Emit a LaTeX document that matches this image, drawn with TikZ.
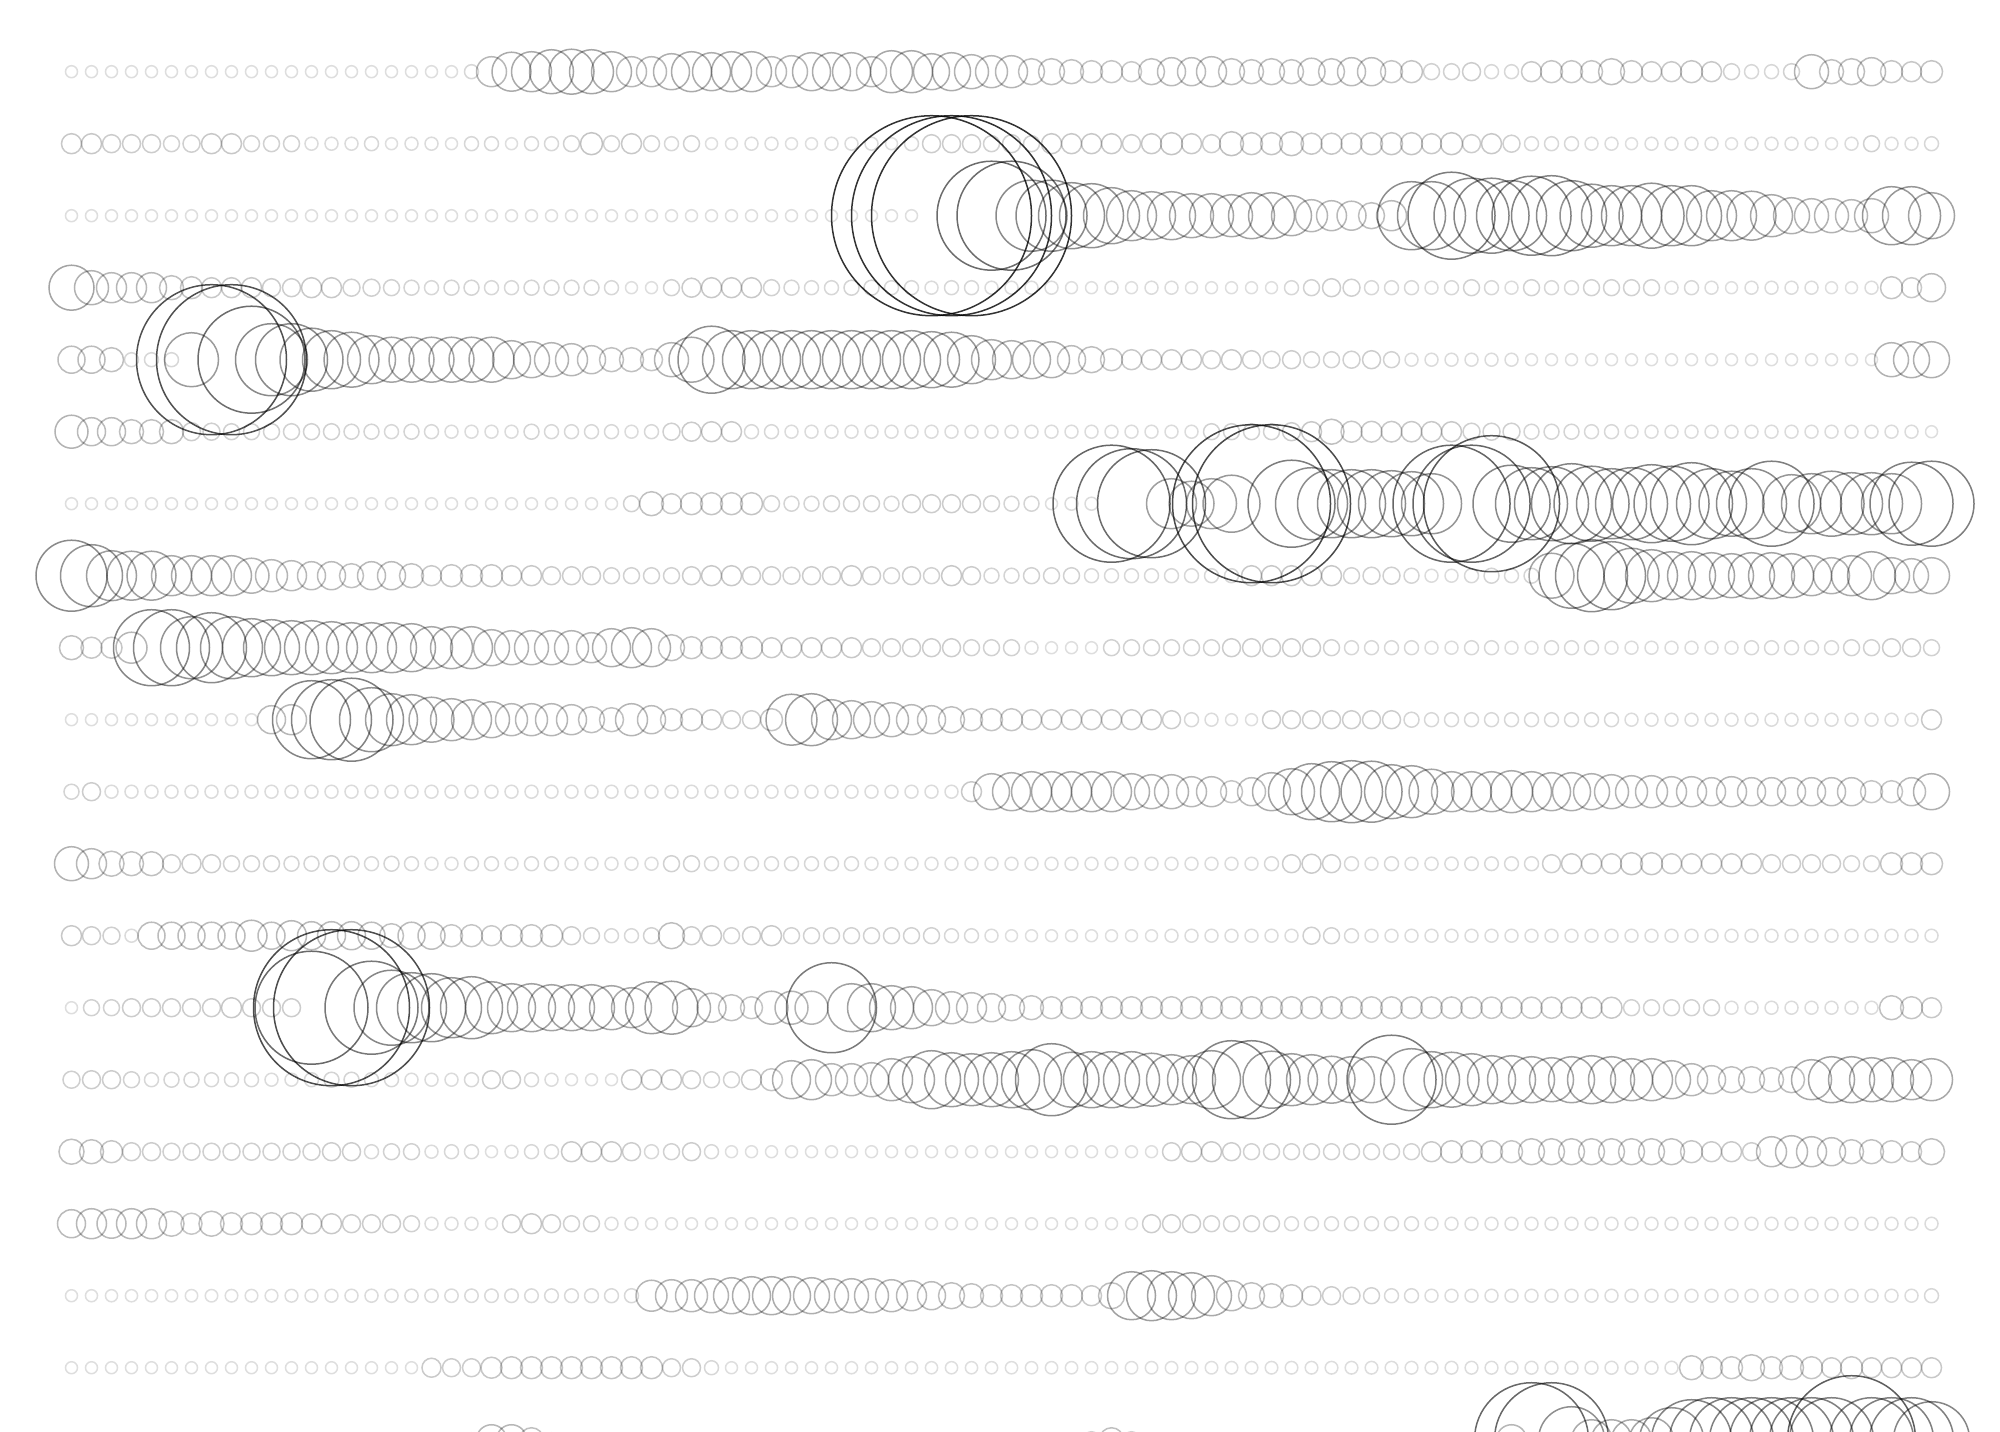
\documentclass[tikz,border=0pt]{standalone}
\tikzset{ring/.style={draw=black, line width=0.75pt}}
\newcommand\ringrow[2]{%
  \foreach \kj/\kd [remember=\kj as \pj (initially -1), remember=\kd as \pd (initially 12)] in {#2} {%
    \pgfmathtruncatemacro\cstart{\pj+1}%
    \foreach \cc in {\cstart,...,\kj} {%
      \pgfmathsetmacro\dd{\pd+(\kd-\pd)*(\cc-\pj)/(\kj-\pj)}%
      \pgfmathsetmacro\op{0.11+0.7*pow(max(\dd-12,0.5)/190,0.6)}%
      \draw[ring, draw opacity=\op] ({71.5+20*\cc},{71.7+72*#1}) circle[radius={\dd/2}];
    }%
  }%
}
\begin{document}
\begin{tikzpicture}[x=0.5pt,y=-0.5pt]
\useasboundingbox (0,0) rectangle (2000,1431);
\clip (0,0) rectangle (2000,1431);
\fill[white] (0,0) rectangle (2000,1431);
% row 1
\ringrow{0}{0/12, 19/12, 20/14, 21/30, 22/39, 23/40, 24/44, 25/45, 26/44, 27/40, 28/30, 29/30, 30/36, 31/40, 32/38, 33/40, 34/40, 35/30, 36/32, 37/38, 38/38, 39/38, 40/30, 41/42, 42/42, 43/36, 44/38, 45/34, 46/32, 47/32, 48/26, 49/26, 50/24, 51/22, 52/22, 53/20, 54/26, 55/28, 56/28, 57/30, 58/26, 59/24, 60/26, 61/24, 62/27, 63/26, 64/28, 65/28, 66/22, 67/22, 68/16, 69/16, 70/18, 71/14, 72/14, 73/20, 74/22, 75/22, 76/22, 77/26, 78/22, 79/20, 80/20, 81/22, 82/20, 83/16, 84/14, 85/14, 86/16, 87/34, 88/24, 89/26, 90/28, 91/22, 92/20, 93/22}
% row 2
\ringrow{1}{0/20, 1/20, 2/18, 3/18, 4/18, 5/16, 6/17, 7/20, 8/20, 9/16, 10/16, 11/16, 12/13, 13/13, 14/13, 15/14, 16/12, 17/13, 18/13, 19/12, 20/14, 21/14, 22/12, 23/14, 24/14, 25/16, 26/22, 27/16, 28/20, 29/16, 30/14, 31/16, 32/12, 33/12, 34/13, 35/13, 36/12, 37/12, 38/13, 39/13, 40/13, 41/12, 42/14, 43/18, 44/18, 45/18, 46/16, 47/18, 48/16, 49/20, 50/20, 51/20, 52/20, 53/18, 54/20, 55/22, 56/20, 57/18, 58/24, 59/22, 60/22, 61/24, 62/21, 63/21, 64/21, 65/22, 66/22, 67/22, 68/20, 69/22, 70/18, 71/20, 72/17, 73/14, 74/14, 75/14, 76/13, 77/13, 78/12, 79/13, 80/13, 81/13, 82/13, 83/12, 84/13, 85/13, 86/13, 87/13, 88/12, 89/13, 90/16, 91/13, 92/13, 93/14}
% row 3
\ringrow{2}{0/12, 42/12, 43/200, 44/200, 45/200, 46/109, 47/109, 48/71, 49/71, 50/66, 51/64, 52/56, 53/50, 54/48, 55/48, 56/44, 57/44, 58/42, 59/46, 60/46, 61/40, 62/32, 63/30, 64/29, 65/26, 66/30, 67/68, 68/68, 69/87, 70/75, 71/75, 72/70, 73/79, 74/80, 75/70, 76/63, 77/60, 78/60, 79/65, 80/60, 81/60, 82/50, 83/50, 84/49, 85/42, 86/36, 87/34, 88/34, 89/32, 90/34, 91/58, 92/58, 93/46}
% row 4
\ringrow{3}{0/45, 1/34, 2/30, 3/30, 4/30, 5/24, 6/22, 7/20, 8/20, 9/20, 10/18, 11/18, 12/20, 13/20, 14/17, 15/17, 16/16, 17/15, 18/14, 19/15, 20/15, 21/14, 22/14, 23/15, 24/15, 25/15, 26/15, 27/14, 28/12, 29/12, 30/16, 31/19, 32/20, 33/20, 34/20, 35/16, 36/15, 37/14, 38/14, 39/15, 40/15, 41/14, 42/14, 43/13, 44/14, 45/14, 46/13, 49/13, 50/12, 51/12, 52/13, 53/12, 54/13, 55/13, 56/12, 60/12, 61/14, 62/16, 63/18, 64/17, 65/14, 66/14, 67/14, 68/13, 69/14, 70/16, 71/14, 72/13, 73/16, 74/14, 75/14, 76/16, 77/16, 78/16, 79/16, 80/13, 81/14, 82/13, 83/12, 84/13, 87/13, 88/12, 89/12, 90/13, 91/22, 92/20, 93/28}
% row 5
\ringrow{4}{0/27, 1/27, 2/24, 3/14, 4/14, 5/14, 6/54, 7/150, 8/150, 9/107, 10/72, 11/72, 12/63, 13/58, 14/55, 15/48, 16/45, 21/45, 22/38, 23/36, 24/34, 25/32, 26/28, 27/24, 28/24, 29/22, 30/34, 31/45, 32/67, 33/58, 42/58, 43/56, 44/55, 45/48, 46/40, 47/38, 48/38, 49/36, 50/28, 51/26, 52/22, 53/20, 56/20, 57/18, 58/20, 59/18, 60/17, 61/18, 62/16, 63/16, 64/17, 65/18, 66/16, 67/13, 72/13, 73/12, 90/12, 91/34, 92/36, 93/36}
% row 6
\ringrow{5}{0/33, 1/28, 2/28, 3/24, 4/24, 5/24, 6/18, 7/17, 8/16, 13/16, 14/15, 15/15, 16/14, 17/15, 18/14, 19/13, 22/13, 23/15, 24/14, 27/14, 28/13, 29/14, 30/17, 31/19, 32/20, 33/20, 34/14, 35/14, 36/13, 56/13, 57/16, 60/16, 61/18, 62/20, 63/25, 64/21, 69/20, 70/17, 72/17, 73/15, 75/15, 76/14, 77/14, 78/13, 92/13, 93/12}
% row 7
\ringrow{6}{0/12, 27/12, 28/16, 29/24, 30/20, 31/22, 34/22, 35/16, 36/15, 37/15, 38/16, 40/16, 41/15, 42/18, 45/18, 46/16, 47/15, 48/15, 49/12, 50/13, 51/13, 52/117, 53/110, 54/108, 55/50, 56/45, 57/50, 58/57, 59/158, 60/158, 61/87, 62/72, 63/68, 64/68, 65/68, 66/66, 67/64, 68/60, 69/117, 70/117, 71/136, 72/77, 73/72, 74/74, 75/80, 76/75, 77/70, 78/72, 79/78, 80/75, 81/82, 82/70, 83/65, 84/70, 85/85, 86/58, 87/60, 88/65, 89/62, 90/62, 91/60, 92/83, 93/85}
% row 8
\ringrow{7}{0/71, 1/62, 2/50, 3/49, 4/49, 5/40, 6/40, 7/40, 8/40, 9/35, 10/32, 11/30, 12/28, 13/28, 14/24, 15/28, 16/28, 17/24, 18/20, 19/22, 20/22, 21/22, 22/20, 23/20, 24/18, 25/18, 26/18, 27/16, 30/16, 31/18, 32/20, 33/20, 34/18, 35/18, 36/17, 37/18, 38/18, 39/20, 40/18, 41/16, 42/18, 43/16, 44/20, 45/18, 46/15, 47/15, 48/16, 50/16, 51/14, 58/14, 59/20, 63/20, 64/16, 65/17, 66/17, 67/15, 68/13, 69/13, 70/14, 71/15, 72/14, 73/15, 74/45, 75/65, 76/72, 77/68, 78/55, 79/52, 80/48, 81/48, 82/46, 83/44, 84/46, 85/46, 86/44, 87/40, 88/36, 89/40, 90/48, 91/36, 92/34, 93/36}
% row 9
\ringrow{8}{0/24, 1/21, 2/21, 3/31, 4/76, 5/76, 6/62, 7/70, 8/62, 9/58, 10/56, 11/54, 12/54, 13/52, 14/50, 15/50, 16/50, 17/48, 18/42, 19/42, 20/42, 21/36, 22/34, 25/34, 26/30, 27/38, 28/40, 29/38, 30/26, 31/22, 34/22, 35/20, 39/20, 40/18, 44/18, 45/16, 47/16, 48/13, 49/12, 51/12, 52/16, 57/16, 58/18, 62/18, 63/16, 64/14, 67/14, 68/13, 69/13, 70/14, 71/14, 72/13, 73/13, 74/14, 76/14, 77/13, 83/13, 84/14, 88/14, 89/16, 90/16, 91/18, 92/18, 93/16}
% row 10
\ringrow{9}{0/12, 9/12, 10/28, 11/30, 12/78, 13/80, 14/83, 15/64, 16/52, 17/50, 18/45, 19/42, 20/40, 21/36, 22/32, 23/32, 24/32, 25/30, 26/26, 27/24, 28/32, 29/28, 30/22, 31/22, 32/20, 33/18, 34/18, 35/22, 36/51, 37/52, 38/40, 39/38, 40/36, 41/34, 42/30, 43/28, 44/26, 45/22, 47/22, 48/20, 54/20, 55/18, 56/14, 57/13, 58/12, 59/12, 60/18, 66/18, 67/15, 68/14, 77/14, 78/13, 92/13, 93/20}
% row 11
\ringrow{10}{0/15, 1/18, 2/13, 44/13, 45/20, 46/36, 47/38, 48/40, 52/40, 53/36, 54/34, 55/34, 56/30, 57/30, 58/22, 59/28, 60/38, 61/46, 62/56, 63/60, 64/62, 65/61, 66/54, 67/52, 68/45, 69/40, 70/40, 71/40, 72/42, 73/40, 74/38, 75/38, 76/36, 77/34, 78/32, 79/32, 80/30, 81/30, 82/28, 83/30, 84/28, 89/28, 90/22, 91/22, 92/28, 93/36}
% row 12
\ringrow{11}{0/34, 1/30, 2/25, 3/24, 4/24, 5/18, 6/19, 7/18, 8/16, 10/16, 11/15, 12/15, 13/16, 14/15, 15/14, 16/15, 17/14, 18/13, 19/13, 20/14, 21/14, 22/13, 23/14, 24/14, 25/13, 29/13, 30/16, 31/16, 32/14, 39/14, 40/13, 59/13, 60/14, 61/18, 62/19, 63/18, 64/14, 65/13, 66/14, 67/13, 73/14, 74/18, 75/20, 77/20, 78/22, 79/22, 80/20, 84/20, 85/18, 88/18, 89/16, 90/16, 91/22, 93/22}
% row 13
\ringrow{12}{0/20, 1/18, 2/17, 3/13, 4/27, 8/27, 9/31, 10/27, 11/30, 12/28, 14/28, 15/27, 16/24, 17/27, 18/27, 19/22, 20/22, 21/20, 22/22, 24/22, 25/18, 26/16, 27/14, 28/14, 29/16, 30/26, 31/18, 32/20, 33/16, 34/18, 35/20, 36/16, 43/16, 44/14, 45/14, 46/13, 47/12, 54/12, 55/13, 61/13, 62/17, 63/16, 64/14, 65/13, 93/13}
% row 14
\ringrow{13}{0/12, 1/16, 2/16, 3/18, 7/18, 8/20, 9/18, 11/18, 12/113, 13/156, 14/156, 15/93, 16/75, 17/70, 18/68, 19/60, 20/62, 21/52, 22/48, 23/48, 24/46, 26/46, 27/44, 28/40, 29/52, 30/53, 31/38, 32/29, 33/26, 34/22, 35/33, 37/33, 38/90, 39/48, 40/48, 41/44, 42/42, 43/36, 44/32, 45/30, 46/28, 47/26, 48/24, 49/22, 61/22, 62/22, 77/21, 78/16, 82/16, 83/13, 90/13, 91/24, 92/22, 93/20}
% row 15
\ringrow{14}{0/17, 1/18, 2/18, 3/16, 4/14, 5/15, 6/15, 7/14, 9/14, 10/13, 11/13, 12/14, 13/15, 14/15, 15/14, 16/14, 17/13, 19/13, 20/14, 21/18, 22/18, 23/14, 24/13, 25/12, 27/12, 28/20, 29/20, 30/20, 31/18, 32/16, 33/16, 34/20, 35/22, 36/38, 37/40, 38/32, 39/32, 40/34, 41/42, 42/46, 43/58, 44/54, 45/52, 46/54, 47/56, 48/60, 49/72, 50/55, 51/56, 52/56, 53/56, 54/53, 55/50, 56/48, 57/58, 58/78, 59/78, 60/57, 61/52, 62/50, 63/47, 64/46, 65/46, 66/89, 67/62, 68/56, 69/55, 70/52, 71/48, 72/48, 73/46, 74/44, 75/46, 76/48, 77/46, 78/42, 79/42, 80/38, 81/32, 82/28, 83/26, 84/26, 85/24, 86/26, 87/40, 88/46, 89/46, 90/44, 91/44, 92/40, 93/42}
% row 16
\ringrow{15}{0/25, 1/24, 2/22, 3/18, 4/18, 5/17, 12/17, 13/18, 14/18, 15/14, 16/16, 17/16, 18/13, 19/14, 20/14, 21/12, 22/13, 23/14, 24/14, 25/20, 26/20, 27/20, 28/18, 29/14, 30/16, 31/18, 32/14, 33/12, 54/12, 55/18, 56/20, 57/20, 58/18, 59/16, 67/16, 68/20, 69/22, 72/22, 73/26, 80/26, 81/22, 82/20, 83/20, 84/18, 85/30, 86/32, 87/30, 88/28, 89/24, 90/24, 91/22, 92/20, 93/26}
% row 17
\ringrow{16}{0/28, 1/30, 2/29, 3/30, 4/30, 5/25, 6/21, 7/25, 8/22, 11/22, 12/20, 13/20, 14/18, 16/18, 17/16, 18/13, 20/13, 21/12, 22/18, 23/20, 24/18, 25/16, 26/16, 27/13, 28/13, 29/12, 53/12, 54/18, 56/18, 57/16, 60/16, 61/14, 67/14, 68/13, 93/13}
% row 18
\ringrow{17}{0/12, 28/14, 29/31, 30/32, 31/32, 32/34, 33/36, 34/38, 36/38, 37/36, 38/34, 40/34, 41/32, 42/30, 43/28, 44/26, 45/24, 46/22, 50/22, 51/20, 52/26, 53/48, 54/50, 55/48, 56/46, 57/40, 58/30, 59/26, 60/24, 61/22, 62/19, 63/18, 64/17, 65/16, 66/14, 67/14, 68/13, 92/13, 93/14}
% row 19
\ringrow{18}{0/12, 17/12, 18/19, 19/18, 20/18, 21/21, 22/22, 29/22, 30/18, 31/18, 32/14, 33/12, 80/13, 81/24, 82/22, 83/22, 84/26, 85/22, 86/24, 87/22, 88/20, 89/22, 90/20, 93/20}
% row 20
\ringrow{19}{0/12, 19/12, 20/14, 21/30, 22/30, 23/24, 24/14, 25/12, 50/12, 51/16, 52/24, 53/16, 54/12, 71/12, 72/30, 73/114, 74/114, 75/66, 76/40, 77/40, 78/40, 79/44, 80/64, 81/80, 82/84, 88/84, 89/128, 90/84, 92/84, 93/76}
\end{tikzpicture}
\end{document}
